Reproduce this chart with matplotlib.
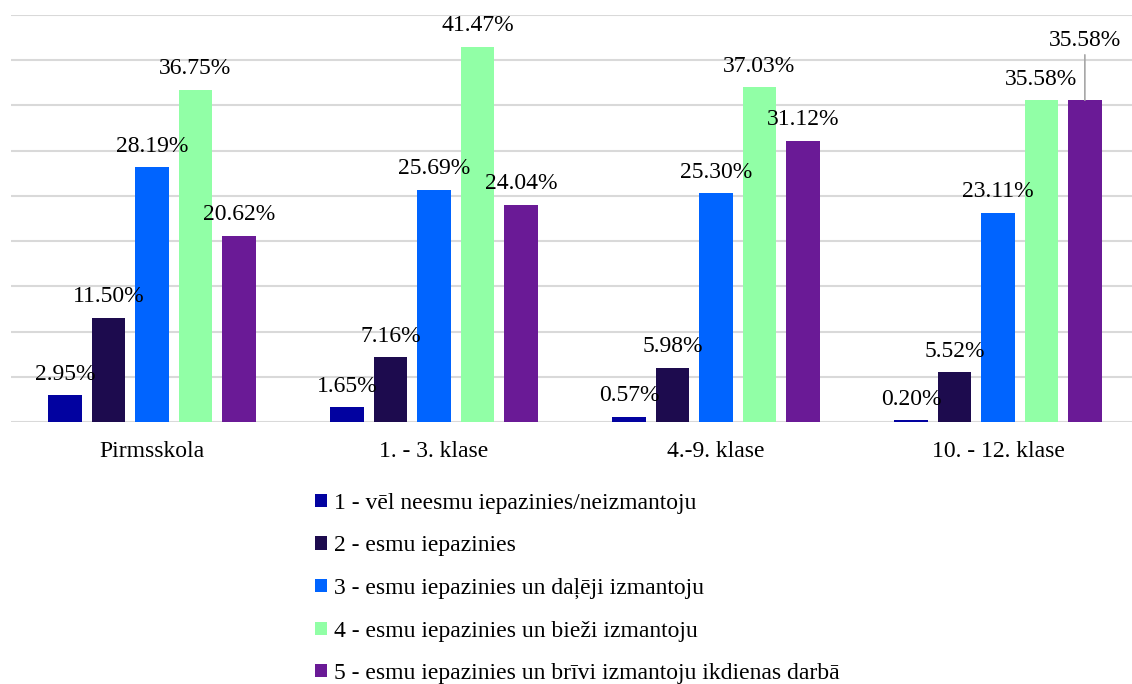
import numpy as np
from matplotlib import pyplot as plt

# dati
klases = ["Pirmsskola", "1. - 3. klase", "4.-9. klase", "10. - 12. klase"]
serijas = [
    "1 - vēl neesmu iepazinies/neizmantoju",
    "2 - esmu iepazinies",
    "3 - esmu iepazinies un daļēji izmantoju",
    "4 - esmu iepazinies un bieži izmantoju",
    "5 - esmu iepazinies un brīvi izmantoju ikdienas darbā",
]
s1 = [2.95, 1.65, 0.57, 0.20]
s2 = [11.50, 7.16, 5.98, 5.52]
s3 = [28.19, 25.69, 25.30, 23.11]
s4 = [36.75, 41.47, 37.03, 35.58]
s5 = [20.62, 24.04, 31.12, 35.58]
vertibas = [s1, s2, s3, s4, s5]

krasas = ["#0202A0", "#1D0B4E", "#0064FF", "#91FFA6", "#6A1A96"]

plt.rcParams["font.family"] = ["Liberation Serif", "DejaVu Serif"]
fs = 17

fig = plt.figure(figsize=(11.32, 6.84), dpi=100)
ax = fig.add_axes([11 / 1132, 262 / 684, 1128 / 1132, 407 / 684])

x = np.arange(len(klases))
solis = 0.154
platums = 0.12

for i, (vals, nosaukums, kr) in enumerate(zip(vertibas, serijas, krasas)):
    pos = x + (i - 2) * solis
    ax.bar(pos, vals, width=platums, color=kr, label=nosaukums, zorder=3)
    for j, (px, v) in enumerate(zip(pos, vals)):
        if i == 4 and j == 3:
            # etiķete ar līniju (kā Excel)
            ax.annotate(f"{v:.2f}%", xy=(px, v), xytext=(0, 60),
                        textcoords="offset pixels", ha="center", va="center",
                        fontsize=fs,
                        arrowprops=dict(arrowstyle="-", color="#A6A6A6",
                                        lw=1.2, shrinkA=1, shrinkB=0))
        else:
            ax.annotate(f"{v:.2f}%", xy=(px, v), xytext=(0, 21),
                        textcoords="offset pixels", ha="center", va="center",
                        fontsize=fs, zorder=4)

ax.set_xlim(-0.5, 3.5)
ax.set_ylim(0, 45)
ax.set_yticks(np.arange(0, 46, 5))
ax.yaxis.grid(True, color="#D9D9D9", linewidth=1.5, zorder=0)
ax.set_yticklabels([])
ax.tick_params(axis="y", length=0)
ax.set_xticks(x)
ax.set_xticklabels(klases, fontsize=fs)
ax.tick_params(axis="x", length=0, pad=14)
for s in ["top", "right", "left", "bottom"]:
    ax.spines[s].set_visible(False)

fig.legend(loc="upper left", bbox_to_anchor=(315 / 1132, 1 - 493 / 684),
           frameon=False, fontsize=fs, handlelength=0.5, handleheight=0.5,
           handletextpad=0.3, labelspacing=0.91, borderpad=0, borderaxespad=0)

plt.savefig("out.png", dpi=100)
